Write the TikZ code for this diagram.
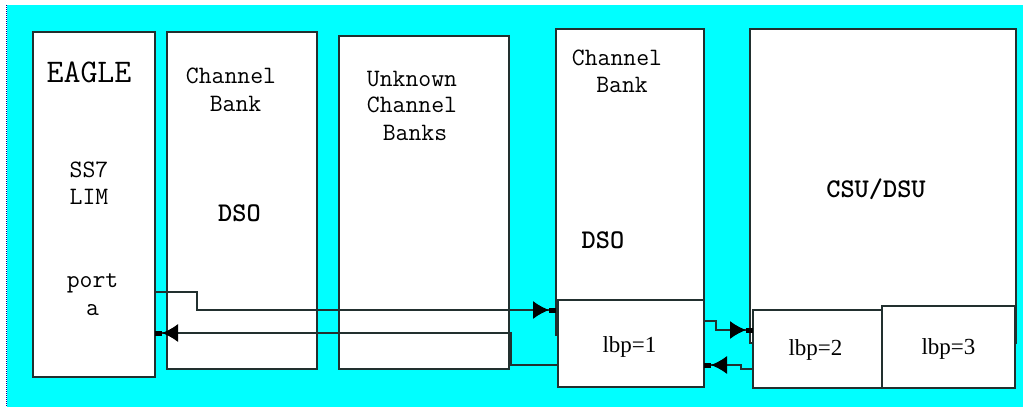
\documentclass[tikz,border=0pt]{standalone}
\usepackage{fontspec}
\setmainfont{Liberation Serif}
\usetikzlibrary{arrows.meta}
\definecolor{bgcyan}{HTML}{00FFFF}
\definecolor{edge}{HTML}{22302F}
\begin{document}
\begin{tikzpicture}[x=1pt,y=-1pt,
  box/.style={draw=edge, fill=white, line width=1.4pt, inner sep=0pt, outer sep=0pt},
  lbl/.style={anchor=base, inner sep=0pt, font=\ttfamily\fontsize{25}{25}\selectfont},
  big/.style={anchor=base, inner sep=0pt, font=\ttfamily\fontsize{33}{33}\selectfont},
  bold/.style={anchor=base, inner sep=0pt, font=\ttfamily\bfseries\fontsize{27}{27}\selectfont},
  serif/.style={anchor=base, inner sep=0pt, font=\fontsize{23}{23}\selectfont},
  wire/.style={draw=edge, line width=1.3pt},
  arr/.style={wire, -{Latex[black,length=16pt,width=18pt] Rectangle[black,length=7pt,width=5pt]}}]
\useasboundingbox (0,0) rectangle (1023,407);
\fill[white] (0,0) rectangle (1023,407);
\fill[bgcyan] (7,5) rectangle (1023,407);
\draw[blue!55!black, densely dotted, line width=1pt] (6,5) -- (6,407);

% boxes
\node[box, minimum width=122pt, minimum height=345pt] (eagle) at (94,204.5) {};
\node[box, minimum width=150pt, minimum height=337pt] (cb1) at (242,200.5) {};
\node[box, minimum width=170pt, minimum height=333pt] (unk) at (424,202.5) {};
\node[box, minimum width=148pt, minimum height=306pt] (cb2) at (630,182) {};
\node[box, minimum width=146pt, minimum height=87pt] (lbp1) at (631,343.5) {};
\node[box, minimum width=266pt, minimum height=314pt] (csu) at (883,186) {};
\node[box, minimum width=129pt, minimum height=78pt] (lbp2) at (817.5,349) {};
\node[box, minimum width=133pt, minimum height=82pt] (lbp3) at (948.5,347) {};

% texts
\node[big] (tEagle) at (89,82) {EAGLE};
\node[lbl] (tSS7) at (89,177) {SS7};
\node[lbl] (tLIM) at (89,204) {LIM};
\node[lbl] (tport) at (92.5,287) {port};
\node[lbl] (ta) at (92.5,315) {a};

\node[lbl] (tCh1) at (231,83) {Channel};
\node[lbl] (tBk1) at (235.5,111) {Bank};
\node[bold] (tDSO1) at (239.5,221) {DSO};

\node[lbl] (tUnk) at (412,86) {Unknown};
\node[lbl] (tCh2) at (412,112) {Channel};
\node[lbl] (tBks) at (415,140) {Banks};

\node[lbl] (tCh3) at (617,65) {Channel};
\node[lbl] (tBk3) at (622,92) {Bank};
\node[bold] (tDSO2) at (603,248) {DSO};

\node[bold] (tCSU) at (876,197) {CSU/DSU};

\node[serif] (tl1) at (629.5,352) {lbp=1};
\node[serif] (tl2) at (815.5,355) {lbp=2};
\node[serif] (tl3) at (948.5,354) {lbp=3};

% connectors
\coordinate (c1a) at (197,292);
\coordinate (c1b) at (197,310);
\draw[arr] (eagle.east |- c1a) -- (c1a) -- (c1b) -- (cb2.west |- c1b);

\coordinate (c2a) at (511,365);
\coordinate (c2b) at (511,333);
\draw[arr] (lbp1.west |- c2a) -- (c2a) -- (c2b) -- (eagle.east |- c2b);

\coordinate (c3a) at (716,321);
\coordinate (c3b) at (716,330);
\draw[arr] (lbp1.east |- c3a) -- (c3a) -- (c3b) -- (lbp2.west |- c3b);

\coordinate (c4a) at (741,369);
\coordinate (c4b) at (741,365);
\draw[arr] (lbp2.west |- c4a) -- (c4a) -- (c4b) -- (lbp1.east |- c4b);
\end{tikzpicture}
\end{document}
